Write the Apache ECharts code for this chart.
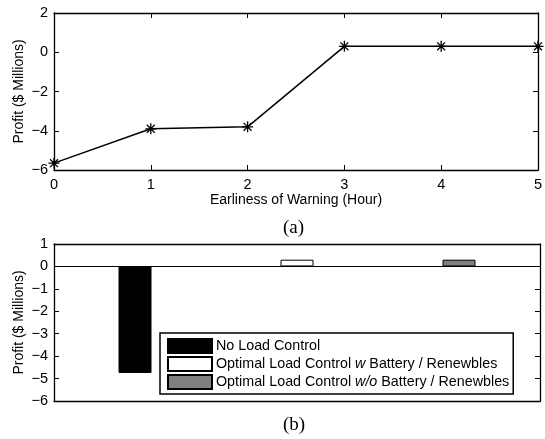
<!DOCTYPE html>
<html>
<head>
<meta charset="utf-8">
<script src="https://cdn.jsdelivr.net/npm/echarts@6/dist/echarts.min.js"></script>
<style>html,body{margin:0;padding:0;background:#fff}#c{width:545px;height:439px}</style>
</head>
<body>
<div id="c"></div>
<script>
// Panel (a): profit vs earliness of warning
const hours = [0, 1, 2, 3, 4, 5];
const profitA = [-5.65, -3.9, -3.8, 0.3, 0.3, 0.3];
const xTicksA = [0, 1, 2, 3, 4, 5];
const yTicksA = [-6, -4, -2, 0, 2];
// Panel (b): profit by control strategy
const strategies = ['No Load Control', 'Optimal Load Control w Battery / Renewbles', 'Optimal Load Control w/o Battery / Renewbles'];
const strategyPos = [1, 2, 3];
const profitB = [-4.75, 0.3, 0.3];
const yTicksB = [-6, -5, -4, -3, -2, -1, 0, 1];

const FONT = 'Liberation Sans, Arial, Helvetica, sans-serif';
const SERIF = 'Liberation Serif, Times New Roman, serif';
const fmtMinus = v => String(v).replace('-', '\u2212');

const lineStyle = { color: '#000', width: 1.3 };
const tickStyle = { show: true, inside: true, length: 5, lineStyle: { color: '#000', width: 1 } };
const labelStyle = { color: '#000', fontSize: 14.5, fontFamily: FONT };

const chart = echarts.init(document.getElementById('c'), null, { renderer: 'canvas' });

const barColors = ['#000000', '#ffffff', '#808080'];

const yName = {
  name: 'Profit ($ Millions)', nameLocation: 'middle', nameGap: 28, nameMoveOverlap: false,
  nameTextStyle: { color: '#000', fontSize: 14, fontFamily: FONT }
};

const option = {
  animation: false,
  backgroundColor: '#fff',
  grid: [
    { left: 54, top: 13, width: 486, height: 157 },
    { left: 54, top: 244, width: 486, height: 157 }
  ],
  xAxis: [
    { type: 'value', gridIndex: 0, min: 0, max: 5, interval: 1, position: 'bottom',
      axisLine: { show: true, onZero: false, lineStyle }, axisTick: tickStyle, splitLine: { show: false },
      axisLabel: { ...labelStyle, margin: 7 },
      name: 'Earliness of Warning (Hour)', nameLocation: 'middle', nameGap: 23, nameMoveOverlap: false,
      nameTextStyle: { color: '#000', fontSize: 14, fontFamily: FONT } },
    { type: 'value', gridIndex: 0, min: 0, max: 5, interval: 1, position: 'top',
      axisLine: { show: true, onZero: false, lineStyle }, axisTick: tickStyle, splitLine: { show: false },
      axisLabel: { show: false } },
    { type: 'value', gridIndex: 1, min: 0.5, max: 3.5, position: 'bottom',
      axisLine: { show: true, onZero: false, lineStyle }, axisTick: { show: false }, splitLine: { show: false },
      axisLabel: { show: false } },
    { type: 'value', gridIndex: 1, min: 0.5, max: 3.5, position: 'top',
      axisLine: { show: true, onZero: false, lineStyle }, axisTick: { show: false }, splitLine: { show: false },
      axisLabel: { show: false } }
  ],
  yAxis: [
    { type: 'value', gridIndex: 0, min: yTicksA[0], max: yTicksA[yTicksA.length - 1], interval: 2, position: 'left',
      axisLine: { show: true, onZero: false, lineStyle }, axisTick: tickStyle, splitLine: { show: false },
      axisLabel: { ...labelStyle, margin: 6, formatter: fmtMinus }, ...yName },
    { type: 'value', gridIndex: 0, min: yTicksA[0], max: yTicksA[yTicksA.length - 1], interval: 2, position: 'right',
      axisLine: { show: true, onZero: false, lineStyle }, axisTick: tickStyle, splitLine: { show: false },
      axisLabel: { show: false } },
    { type: 'value', gridIndex: 1, min: yTicksB[0], max: yTicksB[yTicksB.length - 1], interval: 1, position: 'left',
      axisLine: { show: true, onZero: false, lineStyle }, axisTick: tickStyle, splitLine: { show: false },
      axisLabel: { ...labelStyle, margin: 6, formatter: fmtMinus }, ...yName },
    { type: 'value', gridIndex: 1, min: yTicksB[0], max: yTicksB[yTicksB.length - 1], interval: 1, position: 'right',
      axisLine: { show: true, onZero: false, lineStyle }, axisTick: tickStyle, splitLine: { show: false },
      axisLabel: { show: false } }
  ],
  legend: {
    data: strategies,
    orient: 'vertical',
    left: 160, top: 333,
    itemWidth: 44, itemHeight: 14, itemGap: 2,
    padding: [5, 4, 4, 7],
    borderColor: '#000', borderWidth: 1.5,
    backgroundColor: '#fff',
    icon: 'rect',
    selectedMode: false,
    formatter: function (name) {
      if (name === strategies[1]) return 'Optimal Load Control {i|w} Battery / Renewbles';
      if (name === strategies[2]) return 'Optimal Load Control {i|w/o} Battery / Renewbles';
      return name;
    },
    textStyle: { color: '#000', fontSize: 14.3, lineHeight: 14, fontFamily: FONT, padding: [0, 0, 0, -1],
      rich: { i: { fontStyle: 'italic', fontSize: 14.3, lineHeight: 14, fontFamily: FONT, color: '#000' } } }
  },
  graphic: [
    { type: 'text', left: 283, top: 219, style: { text: '(a)', font: '19px ' + SERIF, fill: '#000' } },
    { type: 'text', left: 283, top: 416, style: { text: '(b)', font: '19px ' + SERIF, fill: '#000' } }
  ],
  series: [
    { type: 'line', xAxisIndex: 0, yAxisIndex: 0,
      data: hours.map((h, i) => [h, profitA[i]]),
      lineStyle: { color: '#000', width: 1.5 },
      symbol: 'path://M0,-5L0,5M-5,0L5,0M-3.6,-3.6L3.6,3.6M-3.6,3.6L3.6,-3.6',
      symbolSize: 11,
      itemStyle: { color: 'none', borderColor: '#000', borderWidth: 1.3 } }
  ].concat(strategies.map((name, i) => ({
    type: 'bar', name: name, xAxisIndex: 2, yAxisIndex: 2,
    data: [[strategyPos[i], profitB[i]]],
    barWidth: 33, barGap: '-100%',
    itemStyle: { color: barColors[i], borderColor: '#000', borderWidth: 1 },
    markLine: i === 0 ? { silent: true, symbol: 'none', label: { show: false },
      lineStyle: { color: '#000', width: 1.2, type: 'solid' }, data: [{ yAxis: 0 }] } : undefined
  })))
};
chart.setOption(option);
</script>
</body>
</html>
